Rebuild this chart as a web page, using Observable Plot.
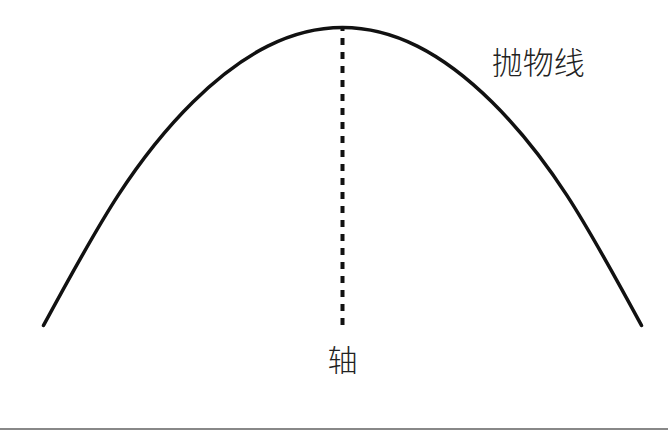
<!DOCTYPE html>
<html>
<head>
<meta charset="utf-8">
<script src="https://cdn.jsdelivr.net/npm/d3@7"></script>
<script src="https://cdn.jsdelivr.net/npm/@observablehq/plot@0.6"></script>
<style>
  body { margin: 0; background: #fff; }
  #chart { width: 668px; height: 431px; position: relative; }
  #chart::after { content: ""; position: absolute; left: 0; right: 0; top: 428px; border-top: 2px solid #888; }
</style>
</head>
<body>
<div id="chart"></div>
<script>
// points
const xs = [-4, -3, -2, -1, 0, 1, 2, 3, 4]
const ys = [0, 7, 12, 15, 16, 15, 12, 7, 0]
const curveLabel = "抛物线"
const axisLabel = "轴"

const pts = xs.map((x, i) => ({x, y: ys[i]}))

let chart = Plot.plot({
  width: 668,
  height: 431,
  marginLeft: 43,
  marginRight: 27,
  marginTop: 27,
  marginBottom: 106,
  x: {domain: [-4, 4], axis: null},
  y: {domain: [0, 16], axis: null},
  style: {fontFamily: "Noto Sans CJK SC", background: "#fff"},
  marks: [
    Plot.line(pts, {x: "x", y: "y", curve: "natural", stroke: "#111", strokeWidth: 3.5}),
    Plot.ruleX([0], {y1: 0, y2: 16, stroke: "#111", strokeWidth: 4, strokeDasharray: "7,7"}),
    Plot.text([axisLabel], {x: 0, y: 0, dy: 36, fontSize: 30, fontWeight: 300, fill: "#222"}),
    Plot.text([curveLabel], {x: 2.62, y: 14.05, fontSize: 31, fontWeight: 300, textAnchor: "middle", fill: "#222"})
  ]
})
d3.select('#chart').append(() => chart)
</script>
</body>
</html>
